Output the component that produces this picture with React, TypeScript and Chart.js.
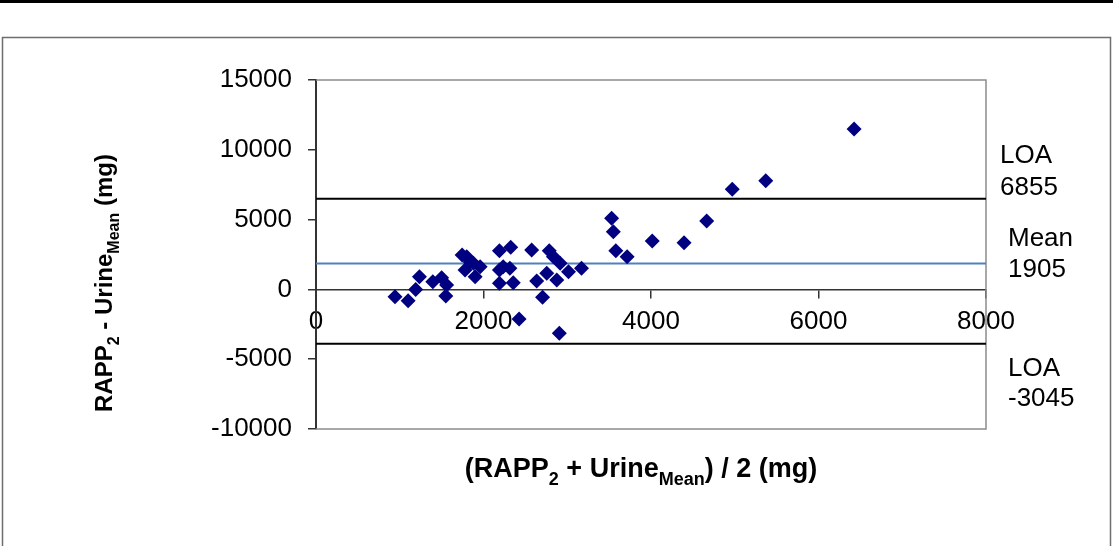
import React, { useEffect, useRef } from 'react';
import { Chart, registerables } from 'chart.js';

Chart.register(...registerables);

// Bland-Altman data: average of the two methods (x) and their difference (y), in mg
const meanValues = [
  943, 1100, 1190, 1235, 1395, 1500, 1560, 1550, 1745, 1800, 1780, 1840, 1880, 1900, 1960,
  2190, 2325, 2190, 2235, 2315, 2190, 2355, 2425, 2575, 2635, 2705, 2785, 2755, 2835, 2875,
  2915, 3015, 3170, 2905, 3530, 3550, 3580, 3715, 4015, 4395, 4665, 4970, 5370, 6425,
];
const diffValues = [
  -520, -810, 0, 910, 550, 840, 310, -470, 2460, 2340, 1390, 1960, 1870, 910, 1630,
  2770, 3020, 1390, 1630, 1510, 440, 480, -2120, 2820, 600, -570, 2770, 1150, 2340, 670,
  1870, 1270, 1510, -3150, 5090, 4130, 2770, 2340, 3470, 3350, 4900, 7170, 7790, 11490,
];

// Reference lines as drawn in the picture
const loaUpperLine = 6500;
const meanLine = 1850;
const loaLowerLine = -3900;
const lineXRange = [0, 8000];

// Axis ticks
const xTickValues = [0, 2000, 4000, 6000, 8000];
const yTickValues = [-10000, -5000, 0, 5000, 10000, 15000];

// Right-side annotations
const upperLabel = ['LOA', '6855'];
const meanLabel = ['Mean', '1905'];
const lowerLabel = ['LOA', '-3045'];

const FONT = "'Liberation Sans', Arial, Helvetica, sans-serif";

type Part = { t: string; sub?: boolean };
const yTitleParts: Part[] = [
  { t: 'RAPP' }, { t: '2', sub: true }, { t: ' - Urine' }, { t: 'Mean', sub: true }, { t: ' (mg)' },
];
const xTitleParts: Part[] = [
  { t: '(RAPP' }, { t: '2', sub: true }, { t: ' + Urine' }, { t: 'Mean', sub: true }, { t: ') / 2 (mg)' },
];

function drawRich(ctx: CanvasRenderingContext2D, parts: Part[], cx: number, baseline: number, size: number, subSize: number) {
  let w = 0;
  for (const p of parts) {
    ctx.font = `bold ${p.sub ? subSize : size}px ${FONT}`;
    w += ctx.measureText(p.t).width;
  }
  let x = cx - w / 2;
  ctx.textAlign = 'left';
  ctx.textBaseline = 'alphabetic';
  ctx.fillStyle = '#000';
  for (const p of parts) {
    ctx.font = `bold ${p.sub ? subSize : size}px ${FONT}`;
    ctx.fillText(p.t, x, baseline + (p.sub ? size * 0.3 : 0));
    x += ctx.measureText(p.t).width;
  }
}

const decorPlugin = {
  id: 'decor',
  beforeDraw(chart: any) {
    const ctx = chart.ctx as CanvasRenderingContext2D;
    ctx.save();
    ctx.fillStyle = '#fff';
    ctx.fillRect(0, 0, chart.width, chart.height);
    ctx.fillStyle = '#000';
    ctx.fillRect(0, 0, chart.width, 3);
    ctx.strokeStyle = '#6e6e6e';
    ctx.lineWidth = 1.5;
    ctx.strokeRect(2.5, 37.5, chart.width - 5, chart.height);
    ctx.restore();
  },
  beforeDatasetsDraw(chart: any) {
    const ctx = chart.ctx as CanvasRenderingContext2D;
    const a = chart.chartArea;
    ctx.save();
    ctx.strokeStyle = '#8c8c8c';
    ctx.lineWidth = 1.5;
    ctx.beginPath();
    ctx.moveTo(a.left, a.top);
    ctx.lineTo(a.right, a.top);
    ctx.lineTo(a.right, a.bottom);
    ctx.lineTo(a.left, a.bottom);
    ctx.stroke();
    ctx.restore();
  },
  afterDraw(chart: any) {
    const ctx = chart.ctx as CanvasRenderingContext2D;
    const a = chart.chartArea;
    const ys = chart.scales.y;
    ctx.save();
    // axis titles
    ctx.save();
    ctx.translate(112, 283);
    ctx.rotate(-Math.PI / 2);
    drawRich(ctx, yTitleParts, 0, 0, 24, 16);
    ctx.restore();
    drawRich(ctx, xTitleParts, 641, 477, 27, 18);

    // annotations
    ctx.font = `26px ${FONT}`;
    ctx.textAlign = 'left';
    ctx.textBaseline = 'alphabetic';
    ctx.fillStyle = '#000';
    const up = ys.getPixelForValue(loaUpperLine);
    ctx.fillText(upperLabel[0], a.right + 14, up - 36);
    ctx.fillText(upperLabel[1], a.right + 14, up - 4);
    const mp = ys.getPixelForValue(meanLine);
    ctx.fillText(meanLabel[0], a.right + 22, mp - 18);
    ctx.fillText(meanLabel[1], a.right + 22, mp + 13);
    const lp = ys.getPixelForValue(loaLowerLine);
    ctx.fillText(lowerLabel[0], a.right + 22, lp + 32);
    ctx.fillText(lowerLabel[1], a.right + 22, lp + 62);
    ctx.restore();
  },
};

export default function App() {
  const ref = useRef<HTMLCanvasElement>(null);
  useEffect(() => {
    const points = meanValues.map((x, i) => ({ x, y: diffValues[i] }));
    const hLine = (v: number) => lineXRange.map((x) => ({ x, y: v }));
    const chart = new Chart(ref.current as HTMLCanvasElement, {
      type: 'scatter',
      data: {
        datasets: [
          {
            label: 'Differences',
            data: points,
            pointStyle: 'rectRot',
            pointRadius: 7.5,
            pointHoverRadius: 7.5,
            backgroundColor: '#000080',
            borderColor: '#000080',
            borderWidth: 0,
            order: 0,
          },
          {
            label: 'LOA upper',
            data: hLine(loaUpperLine),
            showLine: true,
            borderColor: '#000',
            borderWidth: 2,
            pointRadius: 0,
            order: 1,
          },
          {
            label: 'Mean',
            data: hLine(meanLine),
            showLine: true,
            borderColor: '#4f81bd',
            borderWidth: 2,
            pointRadius: 0,
            order: 1,
          },
          {
            label: 'LOA lower',
            data: hLine(loaLowerLine),
            showLine: true,
            borderColor: '#000',
            borderWidth: 2,
            pointRadius: 0,
            order: 1,
          },
        ] as any,
      },
      options: {
        animation: false,
        responsive: false,
        devicePixelRatio: 1,
        layout: { padding: { left: 0, right: 127, top: 80, bottom: 117 } },
        plugins: { legend: { display: false }, tooltip: { enabled: false }, title: { display: false } },
        scales: {
          x: {
            type: 'linear',
            position: { y: 0 } as any,
            min: xTickValues[0],
            max: xTickValues[xTickValues.length - 1],
            afterBuildTicks: (s: any) => { s.ticks = xTickValues.map((v) => ({ value: v })); },
            ticks: {
              font: { family: FONT, size: 26 }, color: '#000', padding: 9, autoSkip: false, maxRotation: 0,
              callback: (v: any) => String(v),
            },
            grid: { drawOnChartArea: false, drawTicks: true, tickLength: 8, color: '#333', lineWidth: 1.5 },
            border: { display: true, color: '#333', width: 1.5 },
          },
          y: {
            type: 'linear',
            position: 'left',
            min: yTickValues[0],
            max: yTickValues[yTickValues.length - 1],
            afterBuildTicks: (s: any) => { s.ticks = yTickValues.map((v) => ({ value: v })); },
            afterFit: (s: any) => { s.width = 316; },
            ticks: {
              font: { family: FONT, size: 26 }, color: '#000', padding: 16, autoSkip: false,
              callback: (v: any) => String(v),
            },
            grid: { drawOnChartArea: false, drawTicks: true, tickLength: 8, color: '#333', lineWidth: 1.5 },
            border: { display: true, color: '#333', width: 2 },
          },
        },
      },
      plugins: [decorPlugin],
    });
    return () => chart.destroy();
  }, []);
  return (
    <div style={{ position: 'absolute', left: 0, top: 0, width: 1113, height: 546, background: '#fff' }}>
      <canvas ref={ref} width={1113} height={546} style={{ display: 'block', width: 1113, height: 546 }} />
    </div>
  );
}
